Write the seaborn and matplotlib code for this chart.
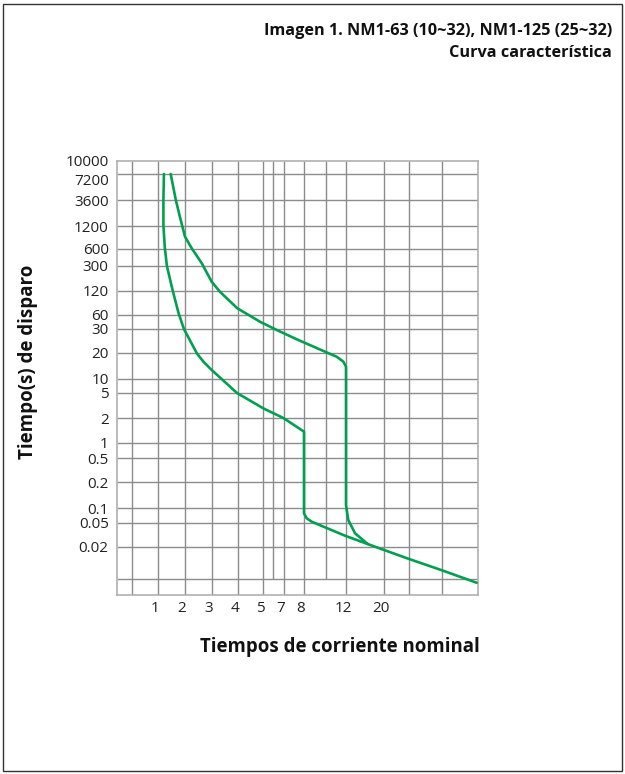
import numpy as np
import pandas as pd
import matplotlib
matplotlib.use("Agg")
import matplotlib.pyplot as plt
import matplotlib.transforms as mtransforms
from matplotlib.patches import Rectangle
import seaborn as sns

# %%
# trip curve values (multiple of rated current, seconds)
lower_x = [1.22, 1.20, 1.20, 1.25, 1.33, 1.54, 1.76, 1.96, 2.44, 2.68, 2.99, 3.97,
           5.03, 6.94, 8.0, 8.0, 8.25, 8.7, 9.91, 11.9, 16.7, 29.1, 49.8, 98.2]
lower_y = [7200, 3600, 1250, 638, 300, 124, 63.5, 30, 19.8, 15.9, 12.7, 4.97,
           2.85, 2.0, 1.37, 0.0783, 0.0621, 0.0531, 0.0424, 0.0308, 0.0222, 0.0157, 0.0121, 0.0085]
upper_x = [1.47, 1.66, 1.81, 2.0, 2.25, 2.62, 2.99, 3.31, 3.97, 4.88, 6.34, 7.64, 10.0,
           11.07, 11.73, 12.0, 12.0, 12.48, 13.9, 16.4, 16.7]
upper_y = [7200, 3600, 1780, 870, 612, 336, 168, 117, 73, 43, 29.5, 25.2, 20.3,
           18.1, 15.9, 13.9, 0.108, 0.0574, 0.0338, 0.0230, 0.0222]

# axis ticks / gridlines (the chart uses a hand drawn, uneven grid)
x_tick_vals = [1, 2, 3, 4, 5, 7, 8, 12, 20]
x_grid_full = [0.8, 1, 2, 3, 4, 5, 7, 8, 12, 20, 30, 50]
x_grid_short = [6, 10]
y_tick_vals = [10000, 7200, 3600, 1200, 600, 300, 120, 60, 30, 20, 10, 5, 2, 1,
               0.5, 0.2, 0.1, 0.05, 0.02]
y_tick_labels = ["10000", "7200", "3600", "1200", "600", "300", "120", "60", "30", "20",
                 "10", "5", "2", "1", "0.5", "0.2", "0.1", "0.05", "0.02"]
y_grid = [7200, 3600, 1200, 600, 300, 120, 60, 30, 20, 10, 5, 2, 1, 0.5, 0.2, 0.1,
          0.05, 0.02, 0.01]

# scale anchors: value -> drawn position
x_anchor_val = [0.6, 0.8, 1, 2, 3, 4, 5, 6, 7, 8, 10, 12, 20, 30, 50, 100]
x_anchor_pos = [117, 132, 158, 185, 212, 238, 263, 273, 284, 304, 326, 346, 384, 409, 442, 478]
y_anchor_val = [0.005, 0.01, 0.02, 0.05, 0.1, 0.2, 0.5, 1, 2, 5, 10, 20, 30, 60, 120,
                300, 600, 1200, 3600, 7200, 10000]
y_anchor_pos = [595, 579, 547, 523, 508, 482, 458, 443, 418, 393, 379, 353, 329, 315, 291,
                266, 249, 226, 200, 174, 160.7]

df = pd.concat([
    pd.DataFrame({"I": lower_x, "t": lower_y, "curve": "low"}),
    pd.DataFrame({"I": upper_x, "t": upper_y, "curve": "high"}),
])

xv = np.array(x_anchor_val, float)
xp = np.array(x_anchor_pos, float)
yl = np.log10(np.array(y_anchor_val, float))
yp = -np.array(y_anchor_pos, float)


def x_fwd(v):
    return np.interp(v, xv, xp)


def x_inv(p):
    return np.interp(p, xp, xv)


def y_fwd(v):
    return np.interp(np.log10(np.clip(v, 1e-9, None)), yl, yp)


def y_inv(p):
    return 10 ** np.interp(p, yp, yl)


# %%
sns.set_style("white")
plt.rcParams["font.family"] = ["Open Sans", "DejaVu Sans"]

W, H = 625, 774
fig = plt.figure(figsize=(W / 100, H / 100), dpi=100, facecolor="white")
ax = fig.add_axes([117 / W, 1 - 595 / H, (478 - 117) / W, (595 - 160.7) / H])
ax.set_xscale("function", functions=(x_fwd, x_inv))
ax.set_yscale("function", functions=(y_fwd, y_inv))
ax.set_xlim(0.6, 100)
ax.set_ylim(0.005, 10000)

gcol = "#8c8c8c"
ax.hlines(y_grid, 0.6, 100, color=gcol, lw=1.0, zorder=1)
ax.vlines(x_grid_full, 0.005, 10000, color=gcol, lw=1.0, zorder=1)
ax.vlines(x_grid_short, 0.01, 10000, color=gcol, lw=1.0, zorder=1)

sns.lineplot(data=df, x="I", y="t", hue="curve", palette=["#00a050", "#00a050"],
             sort=False, estimator=None, legend=False, lw=1.9, ax=ax, zorder=3)

ax.set_xticks(x_tick_vals)
ax.set_xticklabels([str(v) for v in x_tick_vals])
ax.set_yticks(y_tick_vals)
ax.set_yticklabels(y_tick_labels)
ax.minorticks_off()
ax.tick_params(axis="both", length=0, labelsize=11, colors="#222222")
ax.tick_params(axis="y", pad=6)
ax.tick_params(axis="x", pad=4)
shift = mtransforms.ScaledTranslation(-3 / 100, 0, fig.dpi_scale_trans)
for lab in ax.get_xticklabels():
    lab.set_transform(lab.get_transform() + shift)
# the 7200 label sits a little below its line in the original
down = mtransforms.ScaledTranslation(0, -6 / 100, fig.dpi_scale_trans)
ylabs = ax.get_yticklabels()
ylabs[1].set_transform(ylabs[1].get_transform() + down)
ax.set_xlabel("")
ax.set_ylabel("")
for s in ax.spines.values():
    s.set_color("#b0b0b0")
    s.set_linewidth(1.2)

fig.text(28 / W, 1 - 362 / H, "Tiempo(s) de disparo", rotation=90, ha="center", va="center",
         fontsize=13.5, fontweight="bold", color="#111111")
fig.text(340 / W, 1 - 647 / H, "Tiempos de corriente nominal", ha="center", va="center",
         fontsize=13.4, fontweight="bold", color="#111111")
fig.text(612 / W, 1 - 31 / H, "Imagen 1. NM1-63 (10~32), NM1-125 (25~32)", ha="right",
         va="center", fontsize=11.7, fontweight="bold", color="#111111")
fig.text(612 / W, 1 - 53 / H, "Curva característica", ha="right", va="center",
         fontsize=11.7, fontweight="bold", color="#111111")

fig.patches.append(Rectangle((3 / W, 3 / H), (622 - 3) / W, (770 - 3) / H, fill=False,
                             edgecolor="#333333", lw=1.0, transform=fig.transFigure))

fig.savefig("out.png", dpi=100, facecolor="white")
